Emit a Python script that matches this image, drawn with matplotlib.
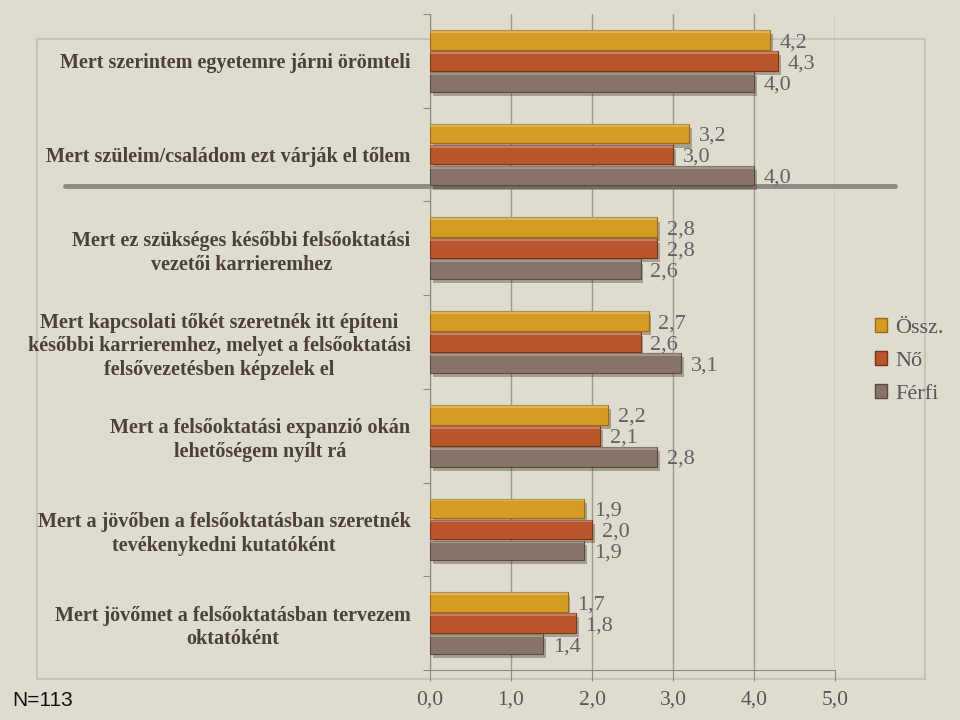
import matplotlib
matplotlib.use("Agg")
import matplotlib.pyplot as plt
import matplotlib.patheffects as pe
from matplotlib.lines import Line2D
from matplotlib.patches import Rectangle, Patch

categories = [
    "Mert szerintem egyetemre járni örömteli",
    "Mert szüleim/családom ezt várják el tőlem",
    "Mert ez szükséges későbbi felsőoktatási\nvezetői karrieremhez",
    "Mert kapcsolati tőkét szeretnék itt építeni\nkésőbbi karrieremhez, melyet a felsőoktatási\nfelsővezetésben képzelek el",
    "Mert a felsőoktatási expanzió okán\nlehetőségem nyílt rá",
    "Mert a jövőben a felsőoktatásban szeretnék\ntevékenykedni kutatóként",
    "Mert jövőmet a felsőoktatásban tervezem\noktatóként",
]
ossz = [4.2, 3.2, 2.8, 2.7, 2.2, 1.9, 1.7]
no = [4.3, 3.0, 2.8, 2.6, 2.1, 2.0, 1.8]
ferfi = [4.0, 4.0, 2.6, 3.1, 2.8, 1.9, 1.4]
series_names = ["Össz.", "Nő", "Férfi"]
colors = ["#d69b24", "#b9562b", "#877466"]
edges = ["#9c6d10", "#7f3514", "#5a4a3e"]
xticks = [0, 1, 2, 3, 4, 5]

bg = "#dedbcf"
serif = ["Liberation Serif", "DejaVu Serif"]

fig = plt.figure(figsize=(9.6, 7.2), dpi=100, facecolor=bg)
ax = fig.add_axes([430 / 960, 1 - 670 / 720, 405 / 960, 656 / 720])
ax.set_facecolor("none")
ax.set_zorder(2)

# slide frame and decorative line (behind the chart)
fig.add_artist(Rectangle((37 / 960, 1 - 679 / 720), 888 / 960, 640 / 720,
                         transform=fig.transFigure, fill=False,
                         edgecolor="#c6c3b8", linewidth=1.5, zorder=-1))
fig.add_artist(Line2D([65 / 960, 895 / 960], [1 - 186 / 720, 1 - 186 / 720],
                      transform=fig.transFigure, color="#8c8a84",
                      linewidth=3.5, zorder=-1, solid_capstyle="round"))

offsets = [-0.224, 0.0, 0.224]
h = 0.21
shadow = [pe.SimplePatchShadow(offset=(2, -3), shadow_rgbFace="#3a3020", alpha=0.35),
          pe.Normal()]
for vals, off, c, ec in zip([ossz, no, ferfi], offsets, colors, edges):
    ys = [i + off for i in range(len(categories))]
    bars = ax.barh(ys, vals, height=h, color=c, edgecolor=ec, linewidth=0.8, zorder=3)
    for b in bars:
        b.set_path_effects(shadow)
    # lighter top strip
    ax.barh([y - h / 2 + 0.015 for y in ys], vals, height=0.03, color="white",
            alpha=0.25, linewidth=0, zorder=4)
    for y, v in zip(ys, vals):
        ax.text(v + 0.12, y + 0.03, f"{v:.1f}".replace(".", ","), ha="left",
                va="center", fontsize=16, color="#626262", family=serif, zorder=5)

ax.set_xlim(0, 5)
ax.set_ylim(len(categories) - 0.5, -0.5)
ax.set_xticks(xticks)
ax.set_xticklabels([f"{t:.1f}".replace(".", ",") for t in xticks],
                   family=serif, fontsize=15.5, color="#555555")
ax.tick_params(axis="x", length=8, color="#8a8a8a", pad=7)
ax.xaxis.grid(True, color="#9a9a96", linewidth=1)
ax.set_axisbelow(True)

ax.set_yticks([i - 0.5 for i in range(len(categories) + 1)], minor=False)
ax.set_yticklabels([])
ax.set_yticks(range(len(categories)), minor=True)
ax.set_yticklabels(categories, minor=True, family=serif, fontsize=14.5,
                   fontweight="bold", color="#4a4234", multialignment="center",
                   linespacing=1.25)
ax.tick_params(axis="y", which="major", length=5, color="#8a8a8a")
ax.tick_params(axis="y", which="minor", length=0, pad=14)

for s in ["top", "right"]:
    ax.spines[s].set_visible(False)
ax.spines["left"].set_color("#8a8a8a")
ax.spines["bottom"].set_color("#8a8a8a")

handles = [Patch(facecolor=c, edgecolor=ec) for c, ec in zip(colors, edges)]
fig.legend(handles, series_names, loc="center left",
           bbox_to_anchor=(855 / 960, 1 - 361 / 720), frameon=False,
           prop={"family": serif, "size": 16}, labelcolor="#555555",
           handlelength=0.55, handleheight=0.55, handletextpad=0.35,
           labelspacing=0.6)

fig.text(12 / 960, 1 - 700 / 720, "N=113", ha="left", va="center", fontsize=15,
         family=["Liberation Sans", "DejaVu Sans"], color="#111111")

fig.savefig("out.png", dpi=100, facecolor=bg)
